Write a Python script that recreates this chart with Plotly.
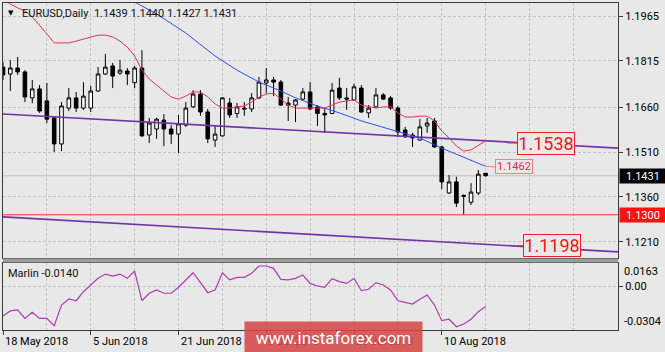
import plotly.graph_objects as go

# ---------------- data ----------------
bar_index = list(range(67))
open_ = [1.1794, 1.1771, 1.1791, 1.1778, 1.1691, 1.1721, 1.1681, 1.1624, 1.1537, 1.1657,
         1.1691, 1.1657, 1.1657, 1.1714, 1.1771, 1.1798, 1.1774, 1.1781, 1.1742, 1.1791,
         1.1567, 1.1587, 1.1617, 1.1587, 1.1570, 1.1600, 1.1661, 1.1704, 1.1644, 1.1550,
         1.1564, 1.1674, 1.1639, 1.1657, 1.1654, 1.1691, 1.1741, 1.1751, 1.1744, 1.1674,
         1.1667, 1.1687, 1.1711, 1.1661, 1.1639, 1.1639, 1.1724, 1.1691, 1.1684, 1.1724,
         1.1641, 1.1661, 1.1701, 1.1691, 1.1657, 1.1584, 1.1567, 1.1550, 1.1597, 1.1614,
         1.1527, 1.1373, 1.1410, 1.1365, 1.1342, 1.1373, 1.1439]
high = [1.1811, 1.1818, 1.1828, 1.1784, 1.1751, 1.1734, 1.1741, 1.1627, 1.1677, 1.1724,
        1.1711, 1.1744, 1.1731, 1.1794, 1.1838, 1.1808, 1.1818, 1.1791, 1.1798, 1.1851,
        1.1624, 1.1624, 1.1637, 1.1600, 1.1634, 1.1677, 1.1717, 1.1717, 1.1654, 1.1600,
        1.1694, 1.1691, 1.1674, 1.1677, 1.1707, 1.1761, 1.1791, 1.1761, 1.1751, 1.1694,
        1.1687, 1.1724, 1.1744, 1.1667, 1.1657, 1.1741, 1.1758, 1.1724, 1.1738, 1.1734,
        1.1667, 1.1724, 1.1707, 1.1697, 1.1664, 1.1594, 1.1574, 1.1620, 1.1624, 1.1624,
        1.1530, 1.1433, 1.1427, 1.1368, 1.1406, 1.1450, 1.1440]
low = [1.1751, 1.1714, 1.1768, 1.1677, 1.1673, 1.1641, 1.1607, 1.1510, 1.1513, 1.1647,
       1.1644, 1.1651, 1.1644, 1.1711, 1.1768, 1.1724, 1.1768, 1.1734, 1.1724, 1.1561,
       1.1540, 1.1554, 1.1530, 1.1537, 1.1507, 1.1594, 1.1657, 1.1631, 1.1540, 1.1527,
       1.1561, 1.1624, 1.1624, 1.1631, 1.1644, 1.1687, 1.1707, 1.1697, 1.1664, 1.1614,
       1.1610, 1.1684, 1.1651, 1.1597, 1.1574, 1.1637, 1.1684, 1.1651, 1.1681, 1.1641,
       1.1624, 1.1657, 1.1684, 1.1651, 1.1561, 1.1557, 1.1527, 1.1547, 1.1574, 1.1524,
       1.1386, 1.1370, 1.1326, 1.1301, 1.1333, 1.1366, 1.1427]
close = [1.1768, 1.1791, 1.1778, 1.1694, 1.1721, 1.1647, 1.1620, 1.1537, 1.1664, 1.1691,
         1.1657, 1.1697, 1.1714, 1.1771, 1.1794, 1.1764, 1.1784, 1.1771, 1.1791, 1.1564,
         1.1607, 1.1620, 1.1587, 1.1570, 1.1604, 1.1657, 1.1704, 1.1644, 1.1554, 1.1570,
         1.1691, 1.1634, 1.1661, 1.1654, 1.1691, 1.1744, 1.1751, 1.1744, 1.1667, 1.1667,
         1.1684, 1.1711, 1.1654, 1.1639, 1.1634, 1.1717, 1.1691, 1.1687, 1.1728, 1.1644,
         1.1657, 1.1701, 1.1687, 1.1657, 1.1577, 1.1561, 1.1557, 1.1594, 1.1607, 1.1527,
         1.1410, 1.1410, 1.1339, 1.1362, 1.1376, 1.1436, 1.1431]

red_ma = [1.2022, 1.2005, 1.1992, 1.1982, 1.1962, 1.1935, 1.1905, 1.1875, 1.1875, 1.1875,
          1.1881, 1.1888, 1.1895, 1.1901, 1.1901, 1.1895, 1.1881, 1.1861, 1.1831, 1.1784,
          1.1754, 1.1734, 1.1711, 1.1694, 1.1687, 1.1697, 1.1711, 1.1711, 1.1694, 1.1671,
          1.1657, 1.1657, 1.1661, 1.1664, 1.1677, 1.1694, 1.1704, 1.1707, 1.1687, 1.1667,
          1.1657, 1.1657, 1.1657, 1.1657, 1.1657, 1.1667, 1.1677, 1.1681, 1.1684, 1.1667,
          1.1661, 1.1657, 1.1661, 1.1661, 1.1641, 1.1627, 1.1627, 1.1630, 1.1630, 1.1614,
          1.1580, 1.1557, 1.1530, 1.1513, 1.1517, 1.1533, 1.1547]

blue_idx = [17, 21, 25, 29, 32, 35, 38, 40, 43, 46, 49, 51, 54, 57, 60, 62, 66]
blue_ma = [1.2025, 1.1972, 1.1908, 1.1831, 1.1784, 1.1744, 1.1714, 1.1691, 1.1664, 1.1641,
           1.1614, 1.1600, 1.1580, 1.1557, 1.1523, 1.1503, 1.1462]

upper_trend_x = [0, 84.1]
upper_trend_y = [1.1637, 1.1523]
lower_trend_x = [0, 84.1]
lower_trend_y = [1.1293, 1.1176]

support_level = 1.1300
last_price = 1.1431

marlin = [-0.0206, -0.0171, -0.0164, -0.0223, -0.0181, -0.0223, -0.0223, -0.0274, -0.0130, -0.0088,
          -0.0100, -0.0037, 0.0010, 0.0056, 0.0086, 0.0072, 0.0086, 0.0056, 0.0107, -0.0100,
          -0.0048, -0.0025, -0.0048, -0.0048, -0.0006, 0.0045, 0.0095, 0.0026, -0.0044, -0.0025,
          0.0095, 0.0045, 0.0063, 0.0063, 0.0091, 0.0142, 0.0142, 0.0126, 0.0049, 0.0045,
          0.0056, 0.0079, 0.0021, 0.0003, -0.0006, 0.0054, 0.0033, 0.0021, 0.0056, -0.0030,
          -0.0020, 0.0026, 0.0010, -0.0025, -0.0100, -0.0111, -0.0123, -0.0090, -0.0060, -0.0130,
          -0.0239, -0.0229, -0.0281, -0.0262, -0.0229, -0.0176, -0.0140]

price_ticks = [1.1965, 1.1815, 1.1660, 1.1510, 1.1360, 1.1210]
marlin_max, marlin_min = 0.0163, -0.0304
date_tick_idx = [0, 12, 24, 36, 48, 60]
date_tick_labels = ["18 May 2018", "5 Jun 2018", "21 Jun 2018", "9 Jul 2018", "25 Jul 2018", "10 Aug 2018"]
grid_idx = [6, 12, 18, 24, 30, 36, 42, 48, 54, 60, 66, 72, 78, 84]

# level labels: text, bar index, price
big_labels = [("1.1538", 74.3, 1.1537), ("1.1198", 75.1, 1.1197)]
small_label = ("1.1462", 69.9, 1.1460)

title_text = "EURUSD,Daily  1.1439 1.1440 1.1427 1.1431"
indicator_text = "Marlin -0.0140"
watermark_text = "www.instaforex.com"

# ---------------- style ----------------
W, H = 665, 352
ML, MR, MT, MB = 3, 47, 3, 22
BG = "#e8e8e8"
GRID = "#c3c3c3"
FRAME = "#3a3a3a"
FONT = "Roboto"


def py(ypx):
    return (H - MB - ypx) / (H - MT - MB)


def px(xpx):
    return (xpx - ML) / (W - ML - MR)


fig = go.Figure()

fig.add_trace(go.Candlestick(
    x=bar_index, open=open_, high=high, low=low, close=close,
    increasing=dict(line=dict(color="black", width=1), fillcolor="white"),
    decreasing=dict(line=dict(color="black", width=1), fillcolor="black"),
    whiskerwidth=0, xaxis="x", yaxis="y", showlegend=False, hoverinfo="skip"))

fig.add_trace(go.Scatter(x=upper_trend_x, y=upper_trend_y, mode="lines",
                         line=dict(color="#7233a6", width=1.6), xaxis="x", yaxis="y", showlegend=False))
fig.add_trace(go.Scatter(x=lower_trend_x, y=lower_trend_y, mode="lines",
                         line=dict(color="#7233a6", width=1.6), xaxis="x", yaxis="y", showlegend=False))
fig.add_trace(go.Scatter(x=bar_index, y=red_ma, mode="lines",
                         line=dict(color="#e8334f", width=1), xaxis="x", yaxis="y", showlegend=False))
fig.add_trace(go.Scatter(x=blue_idx, y=blue_ma, mode="lines",
                         line=dict(color="#3050f5", width=1), xaxis="x", yaxis="y", showlegend=False))

fig.add_trace(go.Scatter(x=bar_index, y=marlin, mode="lines",
                         line=dict(color="#b03cb4", width=1.2), xaxis="x2", yaxis="y2", showlegend=False))

grid_kw = dict(showgrid=True, gridcolor=GRID, gridwidth=1, griddash="3px,2px")
line_kw = dict(showline=True, mirror=True, linecolor=FRAME, linewidth=1, zeroline=False)

fig.update_layout(
    width=W, height=H,
    margin=dict(l=ML, r=MR, t=MT, b=MB, pad=0),
    paper_bgcolor=BG, plot_bgcolor=BG,
    font=dict(family=FONT, size=11, color="black"),
    showlegend=False,
    xaxis=dict(domain=[0, 1], range=[0, 84.1], anchor="y", tickmode="array", tickvals=grid_idx,
               showticklabels=False, ticks="", rangeslider=dict(visible=False), **grid_kw, **line_kw),
    xaxis2=dict(domain=[0, 1], range=[0, 84.1], anchor="y2", matches="x", tickmode="array",
                tickvals=date_tick_idx, ticks="outside", ticklen=4, tickcolor=FRAME,
                showticklabels=False,
                minor=dict(tickmode="array", tickvals=[v for v in grid_idx if v not in date_tick_idx],
                           showgrid=True, gridcolor=GRID, griddash="3px,2px", ticks=""),
                **grid_kw, **line_kw),
    yaxis=dict(domain=[py(258), 1], range=[1.11555, 1.20085], anchor="x", side="right",
               tickmode="array", tickvals=price_ticks, ticktext=[f"{v:.4f}" for v in price_ticks],
               ticks="outside", ticklen=4, tickcolor=FRAME, tickfont=dict(family=FONT, size=11, color="black"),
               **grid_kw, **line_kw),
    yaxis2=dict(domain=[0, py(263)], range=[marlin_min, marlin_max], anchor="x2", side="right",
                tickmode="array", tickvals=[0], ticktext=["0.00"], ticks="outside", ticklen=4,
                tickcolor=FRAME, tickfont=dict(family=FONT, size=11, color="black"),
                **grid_kw, **line_kw),
)

shapes = [
    dict(type="line", xref="paper", x0=0, x1=1, yref="y", y0=last_price, y1=last_price,
         line=dict(color="#cbcbcb", width=1.5), layer="below"),
    dict(type="line", xref="paper", x0=0, x1=1, yref="y", y0=support_level, y1=support_level,
         line=dict(color="#ff2a2a", width=1), layer="above"),
    dict(type="rect", xref="paper", x0=0, x1=1, yref="paper", y0=py(262.5), y1=py(258.5),
         fillcolor="#9c9c9c", line=dict(width=0), layer="above"),
    # connectors from lines to level labels
    dict(type="line", xref="x", yref="y", x0=blue_idx[-1], x1=67.4, y0=blue_ma[-1], y1=small_label[2],
         line=dict(color="#ff7a7a", width=1)),
    dict(type="line", xref="x", yref="y", x0=69.0, x1=70.4, y0=1.1540, y1=1.1540,
         line=dict(color="#e83030", width=1)),
    dict(type="line", xref="x", yref="y", x0=70.3, x1=71.3, y0=1.1197, y1=1.1197,
         line=dict(color="#e83030", width=1)),
]
fig.update_layout(shapes=shapes)

ann = []
# title
ann.append(dict(xref="paper", yref="paper", x=px(6), y=1, xanchor="left", yanchor="top", yshift=-4,
                text="▼", showarrow=False, font=dict(family="DejaVu Sans", size=7, color="black")))
ann.append(dict(xref="paper", yref="paper", x=px(20), y=1, xanchor="left", yanchor="top", yshift=-2,
                text=title_text, showarrow=False, font=dict(family=FONT, size=11, color="#111111")))
ann.append(dict(xref="paper", yref="paper", x=px(6), y=py(263), xanchor="left", yanchor="top", yshift=-2,
                text=indicator_text, showarrow=False, font=dict(family=FONT, size=11, color="#111111")))
# marlin scale labels
ann.append(dict(xref="paper", yref="y2", x=1, y=marlin_max, xanchor="left", yanchor="top", xshift=4,
                text=f"{marlin_max:.4f}", showarrow=False, font=dict(family=FONT, size=11, color="black")))
ann.append(dict(xref="paper", yref="y2", x=1, y=marlin_min, xanchor="left", yanchor="bottom", xshift=4,
                text=f"{marlin_min:.4f}", showarrow=False, font=dict(family=FONT, size=11, color="black")))
# right-axis price boxes
ann.append(dict(xref="paper", yref="y", x=1, y=last_price, xanchor="left", yanchor="middle", xshift=1,
                text=f"{last_price:.4f}", showarrow=False, bgcolor="black", width=46, height=14,
                borderpad=0, align="center", font=dict(family=FONT, size=11, color="white")))
ann.append(dict(xref="paper", yref="y", x=1, y=support_level, xanchor="left", yanchor="middle", xshift=1,
                text=f"{support_level:.4f}", showarrow=False, bgcolor="#ff1010", width=46, height=14,
                borderpad=0, align="center", font=dict(family=FONT, size=11, color="white")))
# level labels
for txt, xi, yv in big_labels:
    ann.append(dict(xref="x", yref="y", x=xi, y=yv, xanchor="center", yanchor="middle", text=txt,
                    showarrow=False, bgcolor=BG, bordercolor="#f02020", borderwidth=1, borderpad=0,
                    width=56, height=21, font=dict(family=FONT, size=18, color="#f01818")))
ann.append(dict(xref="x", yref="y", x=small_label[1], y=small_label[2], xanchor="center", yanchor="middle",
                text=small_label[0], showarrow=False, bgcolor=BG, bordercolor="#ff7a7a", borderwidth=1,
                borderpad=0, width=36, height=13, font=dict(family=FONT, size=11, color="#e82840")))
# date labels
for xi, lab in zip(date_tick_idx, date_tick_labels):
    ann.append(dict(xref="x2", yref="paper", x=xi, y=0, xanchor="left", yanchor="top", yshift=-3,
                    text=lab, showarrow=False, font=dict(family=FONT, size=11, color="black")))
# watermark
ann.append(dict(xref="paper", yref="paper", x=px(333.5), y=py(337), xanchor="center", yanchor="middle",
                text=watermark_text, showarrow=False, bgcolor="rgba(214,72,72,0.88)", width=177, height=31,
                borderpad=0, font=dict(family=FONT, size=17, color="white")))
fig.update_layout(annotations=ann)

fig.write_html("out.html")
